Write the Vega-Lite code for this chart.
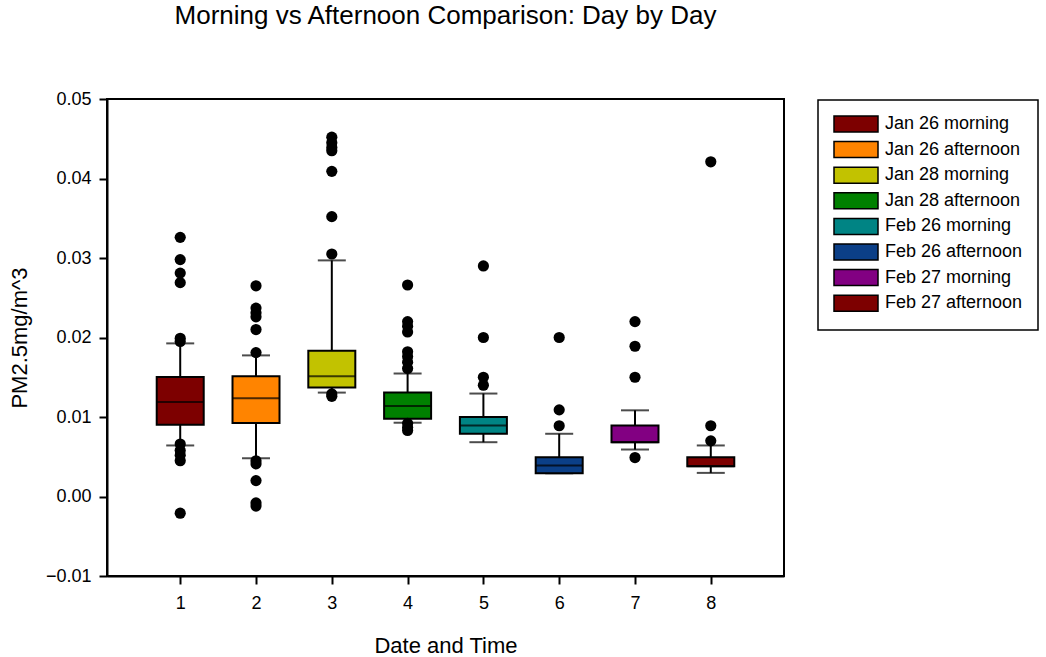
{
  "$schema": "https://vega.github.io/schema/vega-lite/v6.json",
  "width": 677,
  "height": 477,
  "autosize": {"type": "none"},
  "padding": {"left": 107, "top": 99, "right": 262, "bottom": 81},
  "background": "white",
  "title": {"text": "Morning vs Afternoon Comparison: Day by Day", "fontSize": 26, "font": "Liberation Sans", "fontWeight": "normal", "anchor": "middle", "offset": 61, "color": "black"},
  "datasets": {
    "boxes": [
      {"pos": 1, "label": "Jan 26 morning", "lower": 0.00642, "q1": 0.00903, "median": 0.01189, "q3": 0.01504, "upper": 0.01926},
      {"pos": 2, "label": "Jan 26 afternoon", "lower": 0.00481, "q1": 0.00923, "median": 0.01235, "q3": 0.01513, "upper": 0.01775},
      {"pos": 3, "label": "Jan 28 morning", "lower": 0.01307, "q1": 0.0137, "median": 0.01513, "q3": 0.01833, "upper": 0.0297},
      {"pos": 4, "label": "Jan 28 afternoon", "lower": 0.00928, "q1": 0.00979, "median": 0.01138, "q3": 0.01307, "upper": 0.01547},
      {"pos": 5, "label": "Feb 26 morning", "lower": 0.00683, "q1": 0.00789, "median": 0.00894, "q3": 0.00999, "upper": 0.01295},
      {"pos": 6, "label": "Feb 26 afternoon", "lower": 0.00292, "q1": 0.00292, "median": 0.00389, "q3": 0.00494, "upper": 0.00789},
      {"pos": 7, "label": "Feb 27 morning", "lower": 0.00591, "q1": 0.00683, "median": 0.00683, "q3": 0.00894, "upper": 0.01084},
      {"pos": 8, "label": "Feb 27 afternoon", "lower": 0.00297, "q1": 0.0038, "median": 0.0038, "q3": 0.00494, "upper": 0.00642}
    ],
    "outliers": [
      {"pos": 1, "value": 0.0326}, {"pos": 1, "value": 0.0298}, {"pos": 1, "value": 0.0281}, {"pos": 1, "value": 0.0269},
      {"pos": 1, "value": 0.0199}, {"pos": 1, "value": 0.0195}, {"pos": 1, "value": 0.0066}, {"pos": 1, "value": 0.0058},
      {"pos": 1, "value": 0.0052}, {"pos": 1, "value": 0.0045}, {"pos": 1, "value": -0.0021},
      {"pos": 2, "value": 0.0265}, {"pos": 2, "value": 0.0237}, {"pos": 2, "value": 0.0231}, {"pos": 2, "value": 0.0226},
      {"pos": 2, "value": 0.021}, {"pos": 2, "value": 0.0181}, {"pos": 2, "value": 0.0045}, {"pos": 2, "value": 0.0041},
      {"pos": 2, "value": 0.002}, {"pos": 2, "value": -0.0008}, {"pos": 2, "value": -0.0012},
      {"pos": 3, "value": 0.0452}, {"pos": 3, "value": 0.0445}, {"pos": 3, "value": 0.0439}, {"pos": 3, "value": 0.0435},
      {"pos": 3, "value": 0.0409}, {"pos": 3, "value": 0.0352}, {"pos": 3, "value": 0.0305}, {"pos": 3, "value": 0.0129},
      {"pos": 3, "value": 0.0126},
      {"pos": 4, "value": 0.0266}, {"pos": 4, "value": 0.022}, {"pos": 4, "value": 0.0214}, {"pos": 4, "value": 0.0207},
      {"pos": 4, "value": 0.0182}, {"pos": 4, "value": 0.0176}, {"pos": 4, "value": 0.0169}, {"pos": 4, "value": 0.0161},
      {"pos": 4, "value": 0.0092}, {"pos": 4, "value": 0.0087}, {"pos": 4, "value": 0.0083},
      {"pos": 5, "value": 0.029}, {"pos": 5, "value": 0.02}, {"pos": 5, "value": 0.015}, {"pos": 5, "value": 0.014},
      {"pos": 6, "value": 0.02}, {"pos": 6, "value": 0.0109}, {"pos": 6, "value": 0.0089},
      {"pos": 7, "value": 0.022}, {"pos": 7, "value": 0.0189}, {"pos": 7, "value": 0.015}, {"pos": 7, "value": 0.0049},
      {"pos": 8, "value": 0.0421}, {"pos": 8, "value": 0.0089}, {"pos": 8, "value": 0.007}
    ]
  },
  "encoding": {
    "x": {"field": "pos", "type": "quantitative",
      "scale": {"domain": [0.1, 8.9], "nice": false, "zero": false},
      "axis": {"values": [1, 2, 3, 4, 5, 6, 7, 8], "title": "Date and Time", "grid": false, "format": "d"}}
  },
  "layer": [
    {
      "data": {"name": "boxes"},
      "mark": {"type": "rule", "color": "black", "strokeWidth": 2},
      "encoding": {
        "y": {"field": "lower", "type": "quantitative",
          "scale": {"domain": [-0.01, 0.05], "nice": false, "zero": false},
          "axis": {"values": [-0.01, 0, 0.01, 0.02, 0.03, 0.04, 0.05], "format": ".2f", "title": "PM2.5mg/m^3", "grid": false}},
        "y2": {"field": "upper"}
      }
    },
    {
      "data": {"name": "boxes"},
      "mark": {"type": "tick", "orient": "horizontal", "color": "black", "size": 28, "thickness": 2},
      "encoding": {"y": {"field": "upper", "type": "quantitative"}}
    },
    {
      "data": {"name": "boxes"},
      "mark": {"type": "tick", "orient": "horizontal", "color": "black", "size": 28, "thickness": 2},
      "encoding": {"y": {"field": "lower", "type": "quantitative"}}
    },
    {
      "data": {"name": "boxes"},
      "mark": {"type": "bar", "size": 47, "stroke": "black", "strokeWidth": 2, "opacity": 1},
      "encoding": {
        "y": {"field": "q1", "type": "quantitative"},
        "y2": {"field": "q3"},
        "fill": {"field": "label", "type": "nominal",
          "scale": {
            "domain": ["Jan 26 morning", "Jan 26 afternoon", "Jan 28 morning", "Jan 28 afternoon", "Feb 26 morning", "Feb 26 afternoon", "Feb 27 morning", "Feb 27 afternoon"],
            "range": ["#7d0000", "#ff8400", "#c2c200", "#008000", "#008484", "#0b3f87", "#820082", "#7d0000"]
          },
          "legend": {"title": null}
        }
      }
    },
    {
      "data": {"name": "boxes"},
      "mark": {"type": "tick", "orient": "horizontal", "color": "black", "size": 47, "thickness": 2},
      "encoding": {"y": {"field": "median", "type": "quantitative"}}
    },
    {
      "data": {"name": "outliers"},
      "mark": {"type": "circle", "color": "black", "opacity": 1, "size": 125},
      "encoding": {"y": {"field": "value", "type": "quantitative"}}
    }
  ],
  "config": {
    "font": "Liberation Sans",
    "view": {"stroke": "black", "strokeWidth": 2},
    "axis": {
      "domainColor": "black", "domainWidth": 2, "tickColor": "black", "tickWidth": 2, "tickSize": 8,
      "labelFont": "Liberation Sans", "labelFontSize": 18, "labelColor": "black", "labelPadding": 8,
      "titleFont": "Liberation Sans", "titleFontSize": 22, "titleFontWeight": "normal", "titleColor": "black"
    },
    "axisX": {"titlePadding": 23, "labelPadding": 10},
    "axisY": {"titlePadding": 14},
    "legend": {
      "orient": "none", "legendX": 711, "legendY": 1,
      "padding": 15, "strokeColor": "black", "strokeWidth": 1.5, "fillColor": "white",
      "symbolType": "M-2.75,-1H2.75V1H-2.75Z", "symbolSize": 256, "symbolOffset": 14,
      "symbolStrokeColor": "black", "symbolStrokeWidth": 1.5, "symbolOpacity": 1,
      "labelFont": "Liberation Sans", "labelFontSize": 18, "labelColor": "black", "labelOffset": 20, "labelLimit": 300,
      "rowPadding": 3.6
    }
  }
}
